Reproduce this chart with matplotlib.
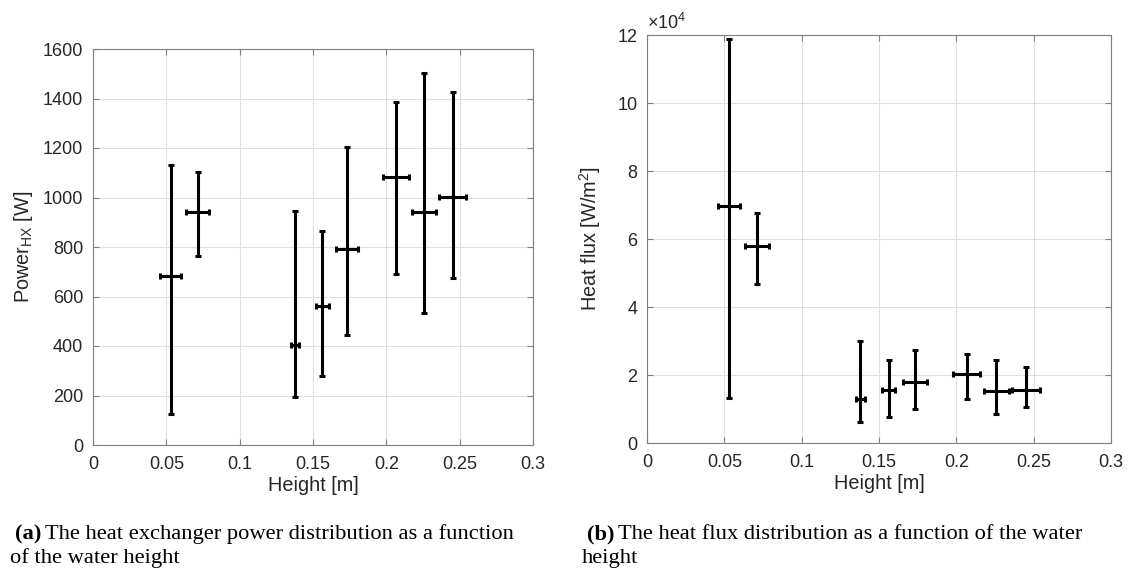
import numpy as np
import matplotlib
matplotlib.use('Agg')
import matplotlib.pyplot as plt
from matplotlib.ticker import FuncFormatter

plt.rcParams['font.family'] = ['Liberation Sans', 'DejaVu Sans']
plt.rcParams['mathtext.default'] = 'regular'

# water height [m] and its uncertainty
height = [0.053, 0.0714, 0.138, 0.1564, 0.1732, 0.2066, 0.2259, 0.2452]
height_err = [0.007, 0.0078, 0.0027, 0.0042, 0.0078, 0.009, 0.0082, 0.009]

# heat exchanger power [W]
power = [682, 940, 404, 562, 791, 1084, 940, 1001]
power_hi = [1133, 1103, 944, 866, 1204, 1385, 1502, 1425]
power_lo = [127, 765, 194, 279, 444, 691, 532, 673]

# heat flux [W/m^2]
flux = [69700, 58000, 13000, 15700, 17900, 20300, 15200, 15700]
flux_hi = [118800, 67700, 30000, 24300, 27400, 26100, 24300, 22500]
flux_lo = [13200, 46900, 6200, 7700, 10100, 13000, 8600, 10600]

TICK_FS = 13
LABEL_FS = 14.3
TXT = '#262626'

fig = plt.figure(figsize=(11.28, 5.72), dpi=100)
ax1 = fig.add_axes([93/1128, 1-445/572, 440/1128, 396/572])
ax2 = fig.add_axes([647/1128, 1-443/572, 464/1128, 408/572])


def draw(ax, y, hi, lo, ylim, yticks):
    y = np.array(y)
    yerr = [y - np.array(lo), np.array(hi) - y]
    ax.errorbar(height, y, xerr=height_err, yerr=yerr, fmt='none',
                ecolor='black', elinewidth=2.2, capsize=2.5, capthick=2.2)
    ax.set_xlim(0, 0.3)
    ax.set_ylim(*ylim)
    ax.set_xticks([0, 0.05, 0.1, 0.15, 0.2, 0.25, 0.3])
    ax.set_xticklabels(['0', '0.05', '0.1', '0.15', '0.2', '0.25', '0.3'])
    ax.set_yticks(yticks)
    ax.grid(True, color='#e0e0e0', linewidth=0.8)
    ax.set_axisbelow(True)
    ax.tick_params(direction='in', top=True, right=True, length=4,
                   labelsize=TICK_FS, colors='#808080', labelcolor=TXT)
    ax.tick_params(axis='x', pad=8)
    ax.tick_params(axis='y', pad=7)
    for s in ax.spines.values():
        s.set_color('#808080')
        s.set_linewidth(0.8)
    ax.set_xlabel('Height [m]', fontsize=LABEL_FS, color=TXT, labelpad=2)


draw(ax1, power, power_hi, power_lo, (0, 1600), np.arange(0, 1601, 200))
ax1.set_ylabel('Power$_{HX}$ [W]', fontsize=LABEL_FS, color=TXT, labelpad=6)

draw(ax2, flux, flux_hi, flux_lo, (0, 120000), np.arange(0, 120001, 20000))
ax2.yaxis.set_major_formatter(FuncFormatter(lambda v, p: '%g' % (v / 1e4)))
ax2.text(0.0, 1.005, r'$\times10^4$', transform=ax2.transAxes, fontsize=TICK_FS,
         color=TXT, ha='left', va='bottom')
ax2.set_ylabel('Heat flux [W/m$^2$]', fontsize=LABEL_FS, color=TXT, labelpad=10)

cap = dict(family='Liberation Serif', fontsize=16.2, color='black', va='baseline')
fig.text(15/1128, 1-539/572, '(a)', fontweight='bold', **cap)
fig.text(45/1128, 1-539/572, 'The heat exchanger power distribution as a function', **cap)
fig.text(10/1128, 1-563/572, 'of the water height', **cap)
fig.text(587/1128, 1-539/572, '(b)', fontweight='bold', **cap)
fig.text(618/1128, 1-539/572, 'The heat flux distribution as a function of the water', **cap)
fig.text(582/1128, 1-563/572, 'height', **cap)

fig.savefig('out.png', dpi=100)
